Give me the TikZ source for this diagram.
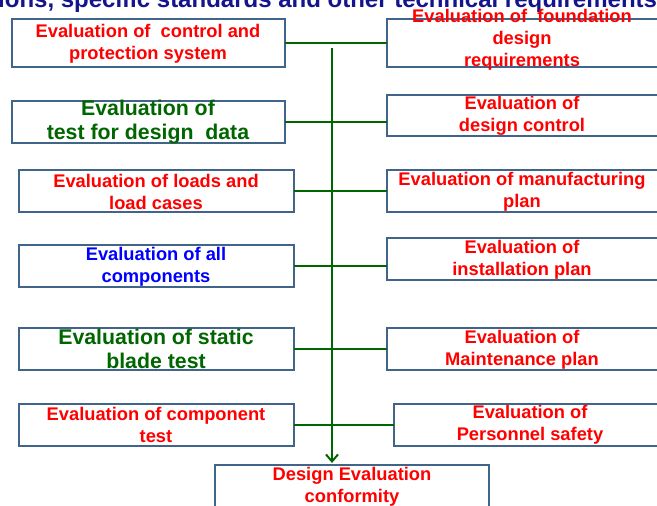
\documentclass[tikz,border=0pt]{standalone}
\usepackage{fontspec}
\setmainfont{Liberation Sans}
\usetikzlibrary{arrows.meta}
\definecolor{boxblue}{RGB}{65,101,138}
\definecolor{lngreen}{RGB}{0,102,0}
\definecolor{txgreen}{RGB}{0,102,0}
\definecolor{navy}{RGB}{20,20,140}
\definecolor{txred}{RGB}{255,0,0}
\definecolor{txblue}{RGB}{0,0,255}
\tikzset{
  evbox/.style={draw=boxblue, line width=2pt, fill=white, inner sep=0pt},
  redtx/.style={text=txred, font=\bfseries\fontsize{18.3}{22}\selectfont, align=center},
  bluetx/.style={text=txblue, font=\bfseries\fontsize{18.3}{22}\selectfont, align=center},
  greentx/.style={text=txgreen, font=\bfseries\fontsize{21.3}{24.5}\selectfont, align=center},
  conn/.style={draw=lngreen, line width=2.5pt},
}
\newcommand{\evb}[5]{% name, x1, y1(top), x2, y2(bottom)
  \path[evbox] (#2,{506-#3}) rectangle (#4,{506-#5});
  \coordinate (#1) at ({(#2+#4)/2},{506-(#3+#5)/2});
  \coordinate (#1-w) at (#2,{506-(#3+#5)/2});
  \coordinate (#1-e) at (#4,{506-(#3+#5)/2});
  \coordinate (#1-n) at ({(#2+#4)/2},{506-#3});
}
\begin{document}
\begin{tikzpicture}[x=1pt,y=1pt]
\useasboundingbox (0,0) rectangle (657,506);
\clip (0,0) rectangle (657,506);
\fill[white] (0,0) rectangle (657,506);
% title
\node[anchor=base west, inner sep=0pt, text=navy, font=\bfseries\fontsize{24}{28}\selectfont] (title) at (-2,498) {ions, specific standards and other technical requirements};
% spine
\coordinate (top) at (332,458);
% left boxes
\evb{L1}{12}{19}{285}{67}
\evb{L2}{12}{101}{285}{143}
\evb{L3}{19}{170}{294}{212}
\evb{L4}{19}{245}{294}{287}
\evb{L5}{19}{328}{294}{370}
\evb{L6}{19}{404}{294}{446}
% right boxes
\evb{R1}{387}{19}{659}{67}
\evb{R2}{387}{95}{659}{136}
\evb{R3}{387}{170}{659}{212}
\evb{R4}{387}{238}{659}{280}
\evb{R5}{387}{328}{659}{370}
\evb{R6}{394}{404}{659}{446}
\evb{B}{215}{465}{489}{510}
\coordinate (tip) at (332,43);
% connectors
\draw[conn] (L1-e) -- (L1-e -| R1-w);
\draw[conn] (L2-e) -- (L2-e -| R2-w);
\draw[conn] (L3-e) -- (L3-e -| R3-w);
\draw[conn] (L4-e) -- (L4-e -| R4-w);
\draw[conn] (L5-e) -- (L5-e -| R5-w);
\draw[conn] (L6-e) -- (L6-e -| R6-w);
\draw[conn, -{Straight Barb[length=7pt,width=12pt,line width=2pt]}] (top) -- (tip);
% texts
\node[redtx] (tL1) at (148,462) {Evaluation of\ \ control and\\protection system};
\node[greentx] (tL2) at (148,384) {Evaluation of\\test for design\ \ data};
\node[redtx] (tL3) at (156,314) {Evaluation of loads and\\load cases};
\node[bluetx] (tL4) at (156,239) {Evaluation of all\\components};
\node[greentx] (tL5) at (156,157) {Evaluation of static\\blade test};
\node[redtx] (tL6) at (156,81) {Evaluation of component\\test};
\node[redtx] (tR1) at (522,466) {Evaluation of\ \ foundation\\design\\requirements};
\node[redtx] (tR2) at (522,390) {Evaluation of\\design control};
\node[redtx] (tR3) at (522,314) {Evaluation of manufacturing\\plan};
\node[redtx] (tR4) at (522,246) {Evaluation of\\installation plan};
\node[redtx] (tR5) at (522,156) {Evaluation of\\Maintenance plan};
\node[redtx] (tR6) at (530,81) {Evaluation of\\Personnel safety};
\node[redtx] (tB) at (352,19) {Design Evaluation\\conformity};
\end{tikzpicture}
\end{document}
